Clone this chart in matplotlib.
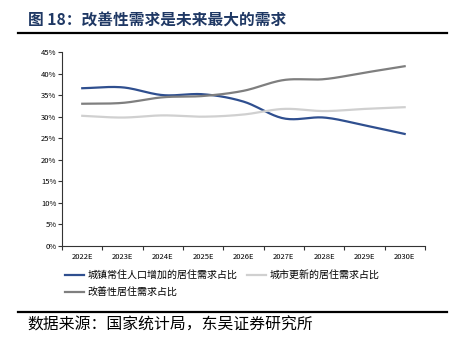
import numpy as np
import matplotlib
matplotlib.use('Agg')
import matplotlib.pyplot as plt
from matplotlib.ticker import FixedLocator, PercentFormatter

plt.rcParams['font.family'] = ['Noto Sans CJK SC', 'DejaVu Sans']

years = ['2022E', '2023E', '2024E', '2025E', '2026E', '2027E', '2028E', '2029E', '2030E']
urban_pop = [36.6, 36.8, 35.0, 35.2, 33.5, 29.6, 29.8, 28.0, 26.0]
renewal = [30.2, 29.8, 30.3, 30.0, 30.5, 31.8, 31.3, 31.8, 32.2]
improve = [33.0, 33.2, 34.5, 34.8, 36.0, 38.5, 38.7, 40.2, 41.7]

names = ['城镇常住人口增加的居住需求占比', '城市更新的居住需求占比', '改善性居住需求占比']
colors = ['#2F4F8F', '#D0D0D0', '#7F7F7F']


def smooth(y, n=20):
    # catmull-rom style smoothing like excel smoothed lines
    y = np.asarray(y, dtype=float)
    p = np.concatenate([[2 * y[0] - y[1]], y, [2 * y[-1] - y[-2]]])
    xs, ys = [], []
    for i in range(len(y) - 1):
        p0, p1, p2, p3 = p[i], p[i + 1], p[i + 2], p[i + 3]
        t = np.linspace(0, 1, n, endpoint=False)
        v = 0.5 * ((2 * p1) + (-p0 + p2) * t + (2 * p0 - 5 * p1 + 4 * p2 - p3) * t ** 2
                   + (-p0 + 3 * p1 - 3 * p2 + p3) * t ** 3)
        xs.append(i + t)
        ys.append(v)
    xs.append([len(y) - 1])
    ys.append([y[-1]])
    return np.concatenate(xs), np.concatenate(ys)


fig = plt.figure(figsize=(4.5, 3.49), dpi=100)
ax = fig.add_axes([0.138, 0.295, 0.806, 0.556])

x = np.arange(len(years))
lines = []
for vals, name, c in zip([urban_pop, renewal, improve], names, colors):
    sx, sy = smooth(vals)
    ln, = ax.plot(sx, sy, color=c, lw=1.6, label=name)
    lines.append(ln)

ax.set_xlim(-0.5, len(years) - 0.5)
ax.set_ylim(0, 45)
ax.yaxis.set_major_locator(FixedLocator(np.arange(0, 46, 5)))
ax.yaxis.set_major_formatter(PercentFormatter(decimals=0))
ax.set_xticks(np.arange(-0.5, len(years), 1))
ax.set_xticklabels([])
ax.set_xticks(x, minor=True)
ax.set_xticklabels(years, minor=True)
ax.tick_params(axis='x', which='minor', length=0, labelsize=5.5, pad=5)
ax.tick_params(axis='x', which='major', length=3, width=0.8, color='#333333')
ax.tick_params(axis='y', length=3, width=0.8, labelsize=5.5, color='#333333', pad=1)
for s in ['top', 'right']:
    ax.spines[s].set_visible(False)
for s in ['left', 'bottom']:
    ax.spines[s].set_color('#333333')
    ax.spines[s].set_linewidth(0.8)

fig.legend([lines[0], lines[2], lines[1]], [names[0], names[2], names[1]],
           ncol=2, loc='upper left', bbox_to_anchor=(0.145, 0.226), frameon=False,
           fontsize=7.2, handlelength=1.9, handletextpad=0.35, columnspacing=0.9,
           labelspacing=0.75, borderaxespad=0, borderpad=0)

fig.text(0.062, 0.942, '图 18：改善性需求是未来最大的需求', fontsize=11.3, fontweight='bold',
         color='#1F3864', va='center')
fig.add_artist(plt.Line2D([0.04, 0.993], [0.905, 0.905], color='black', lw=1.6))
fig.add_artist(plt.Line2D([0.04, 0.993], [0.106, 0.106], color='black', lw=1.6))
fig.text(0.062, 0.068, '数据来源：国家统计局，东吴证券研究所', fontsize=11.4, color='black', va='center')

fig.savefig('out.png', dpi=100)
